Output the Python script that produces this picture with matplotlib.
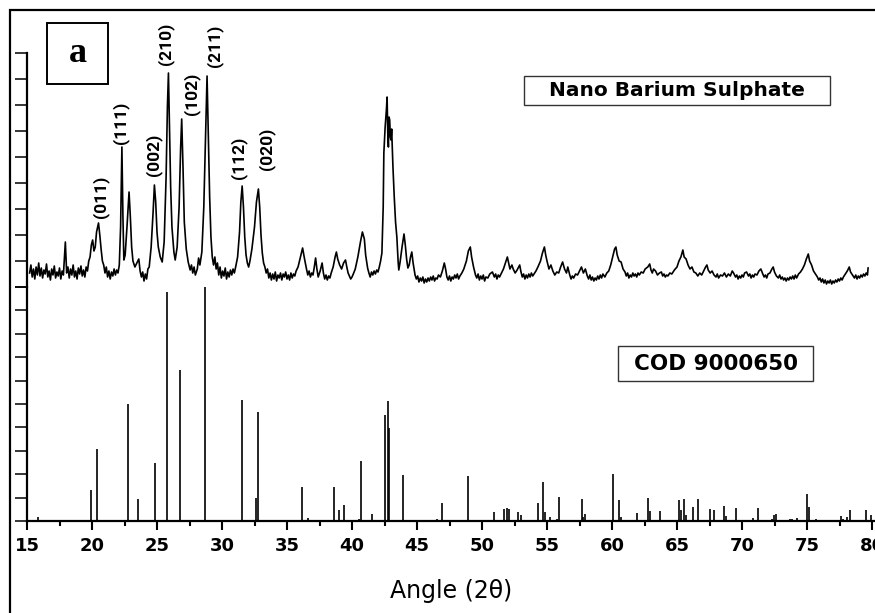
import matplotlib
matplotlib.use("Agg")
import matplotlib.pyplot as plt
from matplotlib.patches import Rectangle

W, H = 875, 613

pattern = [
    (15.20, 14), (15.30, 22), (15.40, 10), (15.50, 18), (15.60, 8), (15.70, 20), (15.80, 12), (15.90, 24),
    (16.00, 11), (16.10, 19), (16.20, 9), (16.30, 17), (16.40, 13), (16.50, 23), (16.60, 10), (16.70, 16),
    (16.80, 7), (16.90, 18), (17.00, 12), (17.10, 21), (17.20, 9), (17.30, 15), (17.40, 11), (17.50, 19),
    (17.60, 8), (17.70, 16), (17.80, 12), (17.95, 45), (18.05, 14), (18.15, 20), (18.25, 9), (18.35, 18),
    (18.45, 12), (18.55, 22), (18.65, 10), (18.75, 16), (18.85, 8), (18.95, 19), (19.05, 13), (19.15, 21),
    (19.25, 11), (19.35, 17), (19.45, 10), (19.55, 20), (19.65, 16), (19.75, 26), (19.85, 30), (19.95, 42),
    (20.05, 47), (20.15, 36), (20.25, 40), (20.35, 55), (20.50, 64), (20.60, 52), (20.70, 38), (20.80, 26),
    (20.90, 22), (21.00, 14), (21.10, 20), (21.20, 10), (21.30, 16), (21.40, 8), (21.50, 15), (21.60, 11),
    (21.70, 18), (21.80, 12), (21.90, 17), (22.00, 14), (22.10, 22), (22.20, 60), (22.30, 140), (22.38, 70),
    (22.45, 27), (22.55, 32), (22.70, 62), (22.85, 95), (22.95, 70), (23.05, 40), (23.15, 26), (23.30, 20),
    (23.45, 24), (23.60, 28), (23.70, 16), (23.80, 10), (23.90, 15), (24.00, 6), (24.10, 13), (24.20, 8),
    (24.30, 18), (24.40, 20), (24.55, 40), (24.70, 75), (24.80, 102), (24.90, 85), (25.00, 55), (25.10, 40),
    (25.25, 30), (25.40, 25), (25.55, 45), (25.70, 110), (25.80, 180), (25.88, 214), (25.95, 165), (26.05, 100),
    (26.15, 60), (26.30, 35), (26.40, 27), (26.55, 40), (26.70, 80), (26.82, 140), (26.90, 168), (27.00, 120),
    (27.10, 65), (27.25, 38), (27.40, 25), (27.55, 17), (27.65, 22), (27.75, 14), (27.85, 20), (27.95, 12),
    (28.10, 18), (28.20, 29), (28.30, 22), (28.45, 35), (28.60, 80), (28.75, 160), (28.85, 211), (28.95, 150),
    (29.05, 90), (29.15, 50), (29.25, 30), (29.35, 22), (29.45, 30), (29.55, 18), (29.65, 24), (29.75, 12),
    (29.85, 20), (29.95, 9), (30.05, 16), (30.15, 11), (30.25, 19), (30.35, 8), (30.45, 15), (30.55, 10),
    (30.65, 17), (30.75, 12), (30.85, 18), (30.95, 14), (31.05, 20), (31.20, 30), (31.35, 55), (31.45, 85),
    (31.55, 101), (31.65, 80), (31.75, 50), (31.85, 32), (31.95, 24), (32.05, 20), (32.15, 26), (32.30, 38),
    (32.50, 60), (32.65, 85), (32.80, 98), (32.90, 80), (33.00, 52), (33.10, 34), (33.20, 24), (33.30, 20),
    (33.40, 14), (33.50, 18), (33.60, 9), (33.70, 14), (33.80, 7), (33.90, 13), (34.00, 8), (34.10, 15),
    (34.20, 6), (34.30, 12), (34.40, 9), (34.50, 14), (34.60, 7), (34.70, 13), (34.80, 10), (34.90, 15),
    (35.00, 8), (35.10, 12), (35.20, 7), (35.30, 14), (35.40, 9), (35.50, 13), (35.60, 11), (35.70, 16),
    (35.85, 20), (36.00, 28), (36.20, 39), (36.35, 28), (36.50, 18), (36.60, 12), (36.70, 16), (36.80, 10),
    (36.90, 14), (37.00, 12), (37.10, 20), (37.20, 29), (37.30, 18), (37.40, 10), (37.55, 16), (37.70, 24),
    (37.80, 14), (37.90, 8), (38.00, 12), (38.10, 7), (38.20, 11), (38.30, 9), (38.40, 14), (38.55, 20),
    (38.70, 30), (38.80, 35), (38.90, 28), (39.05, 22), (39.20, 18), (39.35, 24), (39.50, 27), (39.60, 20),
    (39.70, 14), (39.80, 11), (39.90, 8), (40.00, 10), (40.10, 13), (40.25, 18), (40.45, 30), (40.65, 45),
    (40.80, 55), (40.95, 48), (41.05, 32), (41.20, 19), (41.30, 14), (41.40, 10), (41.50, 15), (41.60, 12),
    (41.70, 16), (41.80, 13), (41.90, 17), (42.00, 15), (42.10, 20), (42.20, 26), (42.30, 34), (42.40, 80),
    (42.45, 134), (42.55, 160), (42.65, 178), (42.70, 190), (42.75, 155), (42.80, 140), (42.85, 170), (42.90, 167),
    (42.95, 150), (43.00, 147), (43.05, 158), (43.15, 120), (43.25, 90), (43.35, 65), (43.45, 50), (43.55, 25),
    (43.60, 17), (43.70, 25), (43.85, 40), (44.00, 53), (44.10, 42), (44.20, 28), (44.30, 19), (44.40, 22),
    (44.50, 30), (44.60, 35), (44.70, 24), (44.85, 12), (44.95, 8), (45.05, 11), (45.15, 5), (45.25, 9),
    (45.35, 6), (45.45, 10), (45.55, 4), (45.65, 8), (45.75, 5), (45.85, 9), (45.95, 6), (46.05, 10),
    (46.15, 7), (46.25, 11), (46.35, 6), (46.45, 9), (46.55, 8), (46.65, 12), (46.80, 10), (46.95, 16),
    (47.10, 24), (47.20, 18), (47.30, 10), (47.40, 7), (47.50, 11), (47.60, 6), (47.70, 10), (47.80, 8),
    (47.90, 12), (48.00, 9), (48.10, 13), (48.20, 8), (48.30, 11), (48.45, 14), (48.60, 18), (48.80, 26),
    (48.95, 36), (49.10, 40), (49.20, 30), (49.35, 20), (49.50, 12), (49.60, 9), (49.70, 13), (49.80, 7),
    (49.90, 11), (50.00, 8), (50.10, 12), (50.20, 6), (50.30, 10), (50.45, 9), (50.60, 13), (50.80, 15),
    (50.95, 10), (51.05, 13), (51.15, 8), (51.25, 12), (51.35, 10), (51.50, 14), (51.65, 18), (51.80, 24),
    (51.95, 30), (52.05, 24), (52.15, 18), (52.30, 22), (52.40, 18), (52.55, 14), (52.70, 17), (52.90, 22),
    (53.00, 15), (53.10, 10), (53.20, 13), (53.30, 8), (53.40, 12), (53.50, 9), (53.60, 13), (53.70, 10),
    (53.80, 14), (53.90, 11), (54.00, 13), (54.15, 16), (54.30, 20), (54.50, 26), (54.65, 34), (54.80, 40),
    (54.90, 32), (55.00, 26), (55.15, 18), (55.30, 22), (55.45, 16), (55.60, 12), (55.75, 15), (55.90, 14),
    (56.05, 20), (56.20, 25), (56.35, 18), (56.50, 14), (56.60, 20), (56.75, 12), (56.85, 8), (56.95, 11),
    (57.05, 9), (57.20, 13), (57.35, 12), (57.50, 16), (57.65, 20), (57.80, 14), (57.95, 18), (58.10, 11),
    (58.20, 8), (58.30, 12), (58.40, 7), (58.50, 10), (58.60, 6), (58.70, 9), (58.80, 7), (58.90, 11),
    (59.00, 8), (59.10, 12), (59.20, 9), (59.30, 13), (59.45, 10), (59.60, 14), (59.75, 16), (59.90, 22),
    (60.05, 30), (60.20, 38), (60.30, 40), (60.40, 32), (60.55, 26), (60.70, 25), (60.85, 18), (61.00, 15),
    (61.10, 11), (61.20, 14), (61.30, 9), (61.40, 12), (61.50, 10), (61.60, 14), (61.70, 11), (61.80, 13),
    (61.90, 10), (62.00, 14), (62.10, 12), (62.25, 15), (62.40, 14), (62.55, 18), (62.75, 20), (62.90, 23),
    (63.00, 17), (63.10, 14), (63.20, 18), (63.35, 16), (63.50, 12), (63.65, 14), (63.80, 15), (63.90, 11),
    (64.00, 13), (64.10, 10), (64.20, 12), (64.30, 11), (64.45, 14), (64.60, 13), (64.80, 17), (65.00, 20),
    (65.15, 26), (65.30, 30), (65.45, 37), (65.55, 30), (65.70, 28), (65.85, 22), (66.00, 18), (66.15, 20),
    (66.30, 15), (66.45, 14), (66.60, 11), (66.75, 14), (66.90, 12), (67.05, 16), (67.20, 20), (67.30, 22),
    (67.40, 17), (67.55, 14), (67.70, 16), (67.85, 12), (68.00, 10), (68.10, 13), (68.20, 9), (68.35, 12),
    (68.50, 11), (68.65, 14), (68.80, 10), (68.95, 13), (69.10, 11), (69.25, 16), (69.35, 14), (69.50, 10),
    (69.60, 12), (69.70, 8), (69.80, 11), (69.90, 9), (70.00, 12), (70.10, 10), (70.20, 14), (70.35, 15),
    (70.50, 11), (70.60, 13), (70.70, 9), (70.80, 12), (70.90, 10), (71.00, 13), (71.15, 12), (71.30, 16),
    (71.45, 18), (71.60, 13), (71.70, 10), (71.80, 12), (71.90, 9), (72.00, 13), (72.15, 14), (72.30, 18),
    (72.40, 20), (72.50, 15), (72.65, 11), (72.80, 9), (72.90, 12), (73.00, 8), (73.10, 10), (73.20, 7),
    (73.30, 9), (73.40, 6), (73.50, 9), (73.60, 7), (73.70, 10), (73.80, 8), (73.90, 11), (74.00, 8),
    (74.10, 12), (74.20, 9), (74.35, 13), (74.50, 15), (74.65, 18), (74.80, 22), (74.95, 28), (75.10, 33),
    (75.20, 26), (75.35, 22), (75.50, 16), (75.65, 13), (75.80, 10), (75.90, 7), (76.00, 9), (76.10, 5),
    (76.20, 8), (76.30, 4), (76.40, 7), (76.50, 3), (76.60, 6), (76.70, 4), (76.80, 7), (76.90, 3),
    (77.00, 6), (77.10, 4), (77.20, 7), (77.30, 5), (77.40, 8), (77.50, 6), (77.60, 9), (77.70, 7),
    (77.80, 10), (77.95, 13), (78.10, 16), (78.25, 20), (78.35, 15), (78.50, 12), (78.65, 9), (78.75, 12),
    (78.85, 8), (78.95, 11), (79.05, 9), (79.15, 12), (79.25, 10), (79.35, 13), (79.45, 11), (79.55, 14),
    (79.65, 12), (79.70, 19),
]
two_theta = [p[0] for p in pattern]
intensity = [p[1] for p in pattern]

# COD 9000650 reference lines (2theta, relative intensity %)
ref_pos = [15.85, 19.9, 20.4, 22.8, 23.5, 24.85, 25.8, 26.8, 28.7, 31.5, 32.6, 32.75,
           36.15, 36.6, 38.6, 39.0, 39.4, 40.5, 40.7, 41.5, 42.55, 42.8, 42.85, 43.9,
           46.5, 46.9, 48.9, 50.9, 51.7, 51.9, 52.1, 52.8, 53.0, 54.3, 54.7, 54.85,
           55.2, 55.75, 55.9, 57.7, 57.8, 57.9, 60.1, 60.5, 60.7, 61.0, 61.9, 62.55,
           62.8, 62.9, 63.7, 64.1, 65.15, 65.3, 65.5, 65.7, 66.2, 66.6, 67.55, 67.85,
           68.1, 68.6, 68.75, 69.5, 70.4, 70.85, 71.2, 72.3, 72.45, 72.6, 73.7, 73.85,
           74.2, 75.0, 75.15, 75.7, 75.85, 77.6, 77.8, 78.1, 78.3, 79.5, 79.9]
ref_int = [1.7, 13.3, 30.8, 50.1, 9.4, 24.8, 98.0, 64.6, 100.0, 51.8, 9.8, 46.7,
           14.6, 1.3, 14.6, 4.7, 6.8, 0.9, 25.7, 3.0, 45.4, 51.4, 39.8, 19.7,
           0.9, 7.7, 19.3, 3.9, 5.1, 5.6, 5.1, 3.9, 2.6, 7.7, 16.7, 3.9,
           1.7, 0.9, 10.3, 9.4, 1.7, 3.0, 20.1, 9.0, 1.7, 0.4, 3.4, 0.4,
           9.8, 4.3, 4.3, 0.4, 9.0, 4.7, 9.4, 2.6, 6.0, 9.4, 5.1, 4.7,
           0.4, 6.4, 2.1, 5.6, 0.4, 1.3, 5.6, 0.9, 2.6, 3.0, 0.9, 0.9,
           1.3, 11.6, 6.0, 0.9, 0.4, 2.1, 0.9, 1.7, 4.7, 4.7, 2.6]

hkl_labels = ["(011)", "(111)", "(002)", "(210)", "(102)", "(211)", "(112)", "(020)"]
hkl_x = [20.62, 22.23, 24.77, 25.62, 27.69, 29.46, 31.31, 33.46]
hkl_y = [90, 164, 132, 243, 193, 241, 129, 138]

xticks = list(range(15, 81, 5))


def fx(px):
    return px / W


def fy(py):
    return 1 - py / H


fig = plt.figure(figsize=(W / 100, H / 100), dpi=100)
left, right = fx(27), 1.0
top_ax = fig.add_axes([left, fy(287), right - left, fy(53) - fy(287)])
bot_ax = fig.add_axes([left, fy(521), right - left, fy(287) - fy(521)])

x_max = 15 + (W - 27) / 13.0

for ax in (top_ax, bot_ax):
    ax.set_xlim(15, x_max)
    ax.patch.set_alpha(0)
    for s in ("top", "right"):
        ax.spines[s].set_visible(False)
    ax.spines["left"].set_linewidth(1.6)
    ax.tick_params(axis="y", direction="out", length=8.5, width=1.1, labelleft=False)

top_ax.plot(two_theta, intensity, color="black", lw=1.2)
top_ax.set_ylim(0, 234)
top_ax.set_yticks(range(0, 235, 26))
top_ax.spines["bottom"].set_visible(False)
top_ax.set_xticks([])

bot_ax.vlines(ref_pos, 0, ref_int, color="black", lw=1.2)
bot_ax.set_ylim(0, 100)
bot_ax.set_yticks(range(0, 101, 10))
bot_ax.spines["bottom"].set_linewidth(1.6)
bot_ax.set_xticks(xticks)
bot_ax.set_xticks([x + 2.5 for x in xticks[:-1]], minor=True)
bot_ax.tick_params(axis="x", which="major", direction="out", length=6.5, width=1.5, pad=5)
bot_ax.tick_params(axis="x", which="minor", direction="out", length=3.8, width=1.5)
for lab in bot_ax.get_xticklabels():
    lab.set_fontsize(13)
    lab.set_fontweight("bold")
bot_ax.set_xlabel("Angle (2θ)", fontsize=17, labelpad=17)

# hkl indices
for lab, x, y in zip(hkl_labels, hkl_x, hkl_y):
    top_ax.text(x, y, lab, rotation=90, ha="center", va="center", fontsize=12.5,
                fontweight="bold",
                family=["Liberation Sans Narrow", "DejaVu Sans Condensed", "Roboto", "DejaVu Sans"],
                clip_on=False)

# outer frame
fig.add_artist(Rectangle((fx(10), -0.1), 1.2, fy(10) + 0.1, transform=fig.transFigure,
                         fill=False, edgecolor="black", lw=1.6, clip_on=False))


def box_text(x0, y0, x1, y1, txt, **kw):
    fig.add_artist(Rectangle((fx(x0), fy(y1)), fx(x1) - fx(x0), fy(y0) - fy(y1),
                             transform=fig.transFigure, fill=False,
                             edgecolor=kw.pop("ec", "#333333"), lw=kw.pop("lw", 1.0)))
    fig.text(fx((x0 + x1) / 2), fy((y0 + y1) / 2), txt, ha="center", va="center", **kw)


box_text(47, 23, 108, 84, "a", fontsize=26, fontweight="bold", family="Liberation Serif",
         ec="black", lw=1.4)
box_text(524, 76, 830, 105, "Nano Barium Sulphate", fontsize=14.5, fontweight="bold")
box_text(618, 346, 813, 381, "COD 9000650", fontsize=15.5, fontweight="bold")

fig.savefig("out.png", dpi=100)
